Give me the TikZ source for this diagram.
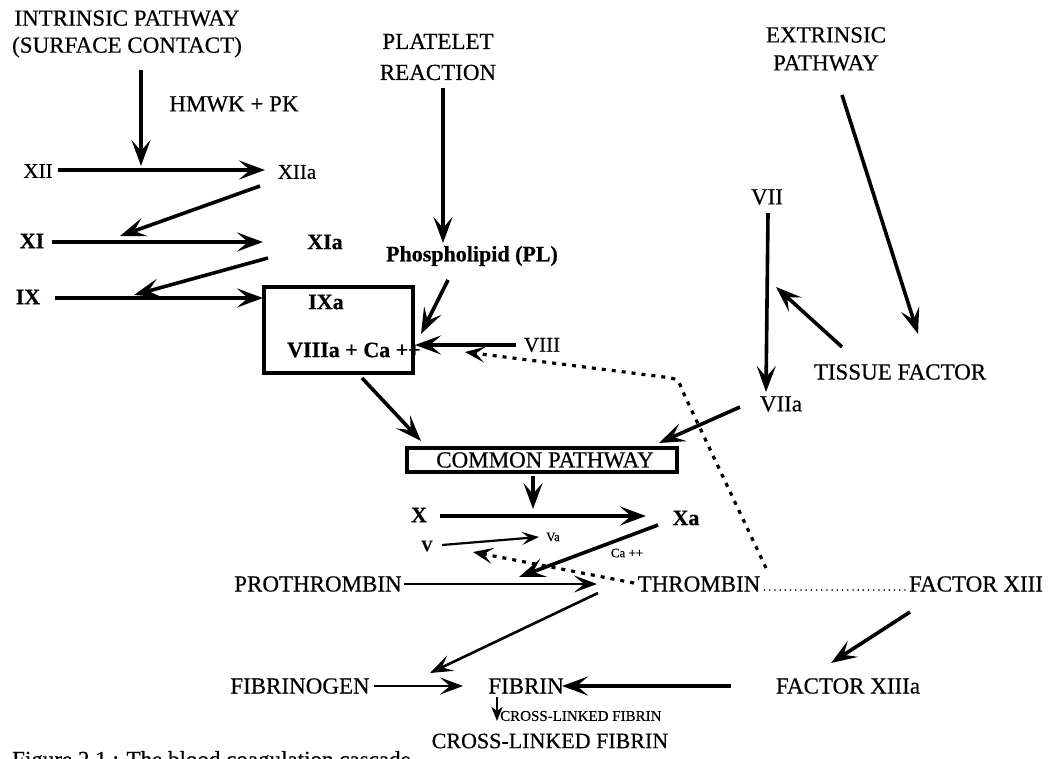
\documentclass[tikz,border=0pt]{standalone}
\usepackage{fontspec}
\setmainfont{Liberation Serif}[FakeBold=0.5]
\usetikzlibrary{arrows.meta}
\begin{document}
\begin{tikzpicture}[x=1pt,y=-1pt,
  lbl/.style={inner sep=0pt, font=\fontsize{23}{27}\selectfont, align=center},
  bl/.style={inner sep=0pt, font=\fontsize{22}{25}\selectfont\bfseries},
  rn/.style={inner sep=0pt, font=\fontsize{21}{24}\selectfont},
  sml/.style={inner sep=0pt, font=\fontsize{15}{18}\selectfont},
  tiny/.style={inner sep=0pt, font=\fontsize{13}{15}\selectfont},
  arr/.style={line width=3.6pt, -{Stealth[length=26pt,width=19pt,inset=11pt]}},
  tarr/.style={line width=2.6pt, -{Stealth[length=23pt,width=17pt,inset=10pt]}},
  sarr/.style={line width=2.2pt, -{Stealth[length=17pt,width=13pt,inset=7pt]}},
  dotarr/.style={line width=3.2pt, dash pattern=on 4pt off 6pt, -{Stealth[length=20pt,width=16pt,inset=9pt]}},
  leader/.style={line width=1.8pt, dash pattern=on 0pt off 5.2pt, line cap=round},
]
\useasboundingbox (0,0) rectangle (1056,759);
% headings
\node[lbl, font=\fontsize{23}{27}\selectfont] (intr) at (127,34) {INTRINSIC PATHWAY\\(SURFACE CONTACT)};
\node[lbl, font=\fontsize{23}{31}\selectfont] (plat) at (438,57) {PLATELET\\REACTION};
\node[lbl, font=\fontsize{23}{28}\selectfont] (extr) at (826,49) {EXTRINSIC\\PATHWAY};
\node[lbl] (hmwk) at (234,104) {HMWK + PK};
% intrinsic factors
\node[rn] (xii) at (38,171) {XII};
\node[rn] (xiia) at (297,172) {XIIa};
\node[bl] (xi) at (32,241) {XI};
\node[bl] (xia) at (325,242) {XIa};
\node[bl] (ix) at (28,297) {IX};
\node[bl] (pl) at (472,256) {Phospholipid (PL)};
\node[draw, line width=3.5pt, minimum width=149pt, minimum height=86pt, inner sep=0pt] (cplx) at (338.5,330) {};
\node[bl] (ixa) at (326,302) {IXa};
\node[bl, anchor=east] (viiia) at (421,350) {VIIIa + Ca ++};
\node[rn] (viii) at (542,345) {VIII};
% extrinsic
\node[lbl] (vii) at (767,197) {VII};
\node[lbl] (viia) at (781,404) {VIIa};
\node[lbl] (tf) at (900,372) {TISSUE FACTOR};
% common pathway
\node[draw, line width=4pt, minimum width=270pt, minimum height=24pt, inner sep=0pt, font=\fontsize{23}{24}\selectfont] (common) at (542,460) {\hspace{6pt}COMMON PATHWAY};
\node[bl] (x) at (419,515) {X};
\node[bl] (xa) at (686,518) {Xa};
\node[inner sep=0pt, font=\fontsize{16}{18}\selectfont\bfseries] (v) at (427,546) {V};
\node[tiny] (va) at (553,537) {Va};
\node[tiny] (ca) at (627,553) {Ca ++};
\node[lbl] (pro) at (318,584) {PROTHROMBIN};
\node[lbl] (thr) at (699,584) {THROMBIN};
\node[lbl] (f13) at (976,584) {FACTOR XIII};
\node[lbl] (fgen) at (300,686) {FIBRINOGEN};
\node[lbl] (fib) at (526,686) {FIBRIN};
\node[lbl] (f13a) at (848,686) {FACTOR XIIIa};
\node[sml, anchor=west] (clf1) at (500,716) {CROSS-LINKED FIBRIN};
\node[lbl, font=\fontsize{22}{24}\selectfont] (clf2) at (550,741) {CROSS-LINKED FIBRIN};
\node[lbl, anchor=base west] (cap) at (12,767) {Figure 2.1 : The blood coagulation cascade};
% connector end points
\coordinate (intr-o) at (141,70);   \coordinate (xii-in) at (141,166);
\coordinate (xii-o) at (58,170);    \coordinate (xiia-in) at (265,170);
\coordinate (xiia-o) at (260,186);  \coordinate (xi-in) at (120,236);
\coordinate (xi-o) at (52,242);     \coordinate (xia-in) at (263,242);
\coordinate (xia-o) at (268,258);   \coordinate (ix-in) at (134,295);
\coordinate (ix-o) at (55,298);     \coordinate (cplx-w) at (263,298);
\coordinate (plat-o) at (443,88);   \coordinate (pl-in) at (443,243);
\coordinate (pl-o) at (448,280);    \coordinate (cplx-e1) at (421,334);
\coordinate (viii-o) at (516,345);  \coordinate (cplx-e2) at (415,345);
\coordinate (cplx-o) at (362,378);  \coordinate (common-in1) at (421,441);
\coordinate (extr-o) at (842,95);   \coordinate (tf-in) at (918,334);
\coordinate (vii-o) at (768,213);   \coordinate (viia-in) at (766,392);
\coordinate (tf-o) at (842,347);    \coordinate (vii-in) at (776,287);
\coordinate (viia-o) at (740,407);  \coordinate (common-in2) at (659,443);
\coordinate (common-o) at (533,476);\coordinate (x-in) at (533,509);
\coordinate (x-o) at (440,516);     \coordinate (xa-in) at (646,516);
\coordinate (v-o) at (442,545);     \coordinate (va-in) at (539,537);
\coordinate (xa-o) at (658,525);    \coordinate (pro-in) at (519,577);
\coordinate (pro-o) at (404,584);   \coordinate (thr-in) at (597,584);
\coordinate (thr-o) at (598,593);   \coordinate (fgen-in) at (430,673);
\coordinate (fgen-o) at (374,686);  \coordinate (fib-in) at (463,686);
\coordinate (f13a-o) at (731,686);  \coordinate (fib-in2) at (562,686);
\coordinate (f13-o) at (910,612);   \coordinate (f13a-in) at (831,663);
\coordinate (fib-o) at (497,697);   \coordinate (clf1-in) at (497,721);
\coordinate (thr-d1) at (766,568);  \coordinate (viii-d) at (465,352);
\coordinate (thr-d2) at (634,583);  \coordinate (v-d) at (473,552);
% connectors
\draw[arr] (intr-o) -- (xii-in);
\draw[arr] (xii-o) -- (xiia-in);
\draw[arr] (xiia-o) -- (xi-in);
\draw[arr] (xi-o) -- (xia-in);
\draw[arr] (xia-o) -- (ix-in);
\draw[arr] (ix-o) -- (cplx-w);
\draw[arr] (plat-o) -- (pl-in);
\draw[arr] (pl-o) -- (cplx-e1);
\draw[arr] (viii-o) -- (cplx-e2);
\draw[arr] (cplx-o) -- (common-in1);
\draw[arr] (extr-o) -- (tf-in);
\draw[arr] (vii-o) -- (viia-in);
\draw[arr] (tf-o) -- (vii-in);
\draw[arr] (viia-o) -- (common-in2);
\draw[arr] (common-o) -- (x-in);
\draw[arr] (x-o) -- (xa-in);
\draw[sarr] (v-o) -- (va-in);
\draw[arr] (xa-o) -- (pro-in);
\draw[tarr] (pro-o) -- (thr-in);
\draw[tarr] (thr-o) -- (fgen-in);
\draw[tarr] (fgen-o) -- (fib-in);
\draw[arr] (f13a-o) -- (fib-in2);
\draw[arr] (f13-o) -- (f13a-in);
\draw[line width=2.4pt, -{Stealth[length=14pt,width=11pt,inset=4pt]}] (fib-o) -- (clf1-in);
% dotted feedback
\draw[dotarr] (thr-d1) -- (683,392) .. controls (678,379) .. (664,377) -- (viii-d);
\draw[dotarr] (thr-d2) -- (v-d);
\draw[leader] ([shift={(4,-1.5)}]thr.base east) -- ([shift={(-3,-1.5)}]f13.base west);
\end{tikzpicture}
\end{document}
